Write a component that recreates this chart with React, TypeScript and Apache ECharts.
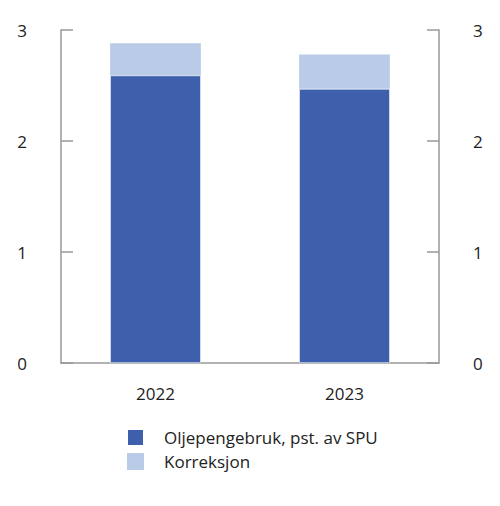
import React, { useEffect, useRef } from "react";
import * as echarts from "echarts";

const categories = ["2022", "2023"];
const oljepengebruk = [2.59, 2.47];
const korreksjon = [0.29, 0.31];
const yTicks = [0, 1, 2, 3];

export default function App() {
  const ref = useRef<HTMLDivElement>(null);
  useEffect(() => {
    document.body.style.margin = "0";
    const chart = echarts.init(ref.current!, null, { renderer: "svg" });
    const font = "'Open Sans', 'Noto Sans', sans-serif";
    const yAxisBase = {
      type: "value" as const,
      min: yTicks[0],
      max: yTicks[yTicks.length - 1],
      interval: 1,
      axisLine: { show: true, lineStyle: { color: "#999999", width: 1.5 } },
      axisTick: { show: true, inside: true, length: 12, lineStyle: { color: "#999999", width: 1.5 } },
      splitLine: { show: false },
      axisLabel: { color: "#222222", fontSize: 17, fontFamily: font, margin: 34, padding: [6, 0, 0, 0] },
    };
    chart.setOption({
      animation: false,
      grid: { left: 61, right: 61, top: 30, bottom: 143, containLabel: false },
      legend: {
        orient: "vertical",
        left: 126,
        top: 428,
        padding: 0,
        itemWidth: 17,
        itemHeight: 17,
        itemGap: 6,
        icon: "rect",
        selectedMode: false,
        textStyle: { color: "#222222", fontSize: 17, fontFamily: font, padding: [0, 0, 0, 15] },
        data: ["Oljepengebruk, pst. av SPU", "Korreksjon"],
      },
      xAxis: {
        type: "category",
        data: categories,
        axisLine: { show: true, lineStyle: { color: "#999999", width: 1.5 } },
        axisTick: { show: false },
        axisLabel: { color: "#222222", fontSize: 17, fontFamily: font, margin: 22 },
      },
      yAxis: [
        { ...yAxisBase, position: "left" },
        { ...yAxisBase, position: "right" },
      ],
      series: [
        {
          name: "Oljepengebruk, pst. av SPU",
          type: "bar",
          stack: "total",
          data: oljepengebruk,
          barWidth: "48%",
          itemStyle: { color: "#3e5fac", borderColor: "#ffffff", borderWidth: 0.6 },
        },
        {
          name: "Korreksjon",
          type: "bar",
          stack: "total",
          data: korreksjon,
          barWidth: "48%",
          itemStyle: { color: "#b9cbe7" },
        },
      ],
    });
    return () => chart.dispose();
  }, []);
  return <div ref={ref} style={{ width: 500, height: 506 }} />;
}
